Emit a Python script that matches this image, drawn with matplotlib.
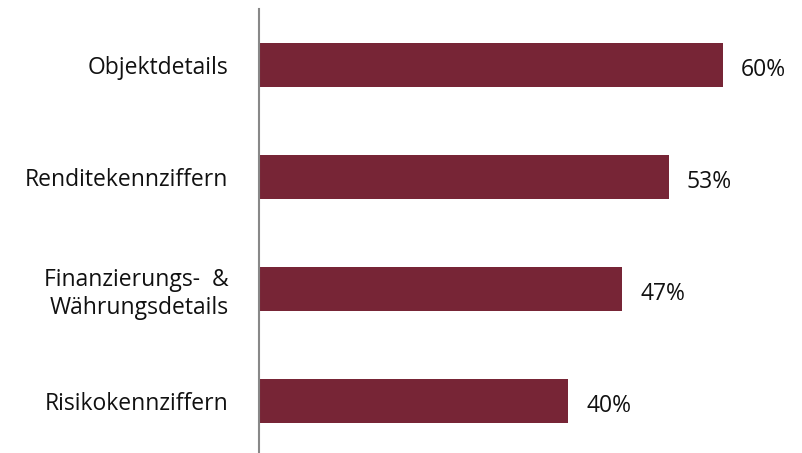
import matplotlib.pyplot as plt

# Kategorien und Anteile (in %)
categories = ["Objektdetails", "Renditekennziffern", "Finanzierungs-  &\nWährungsdetails", "Risikokennziffern"]
values = [60, 53, 47, 40]

bar_color = "#772536"

fig = plt.figure(figsize=(8.03, 4.53), dpi=100)
ax = fig.add_axes([0.3225, -0.009, 0.6725, 0.989])

y = list(range(len(categories)))
ax.barh(y, values, height=0.4, color=bar_color, left=0.1)
ax.set_ylim(3.5, -0.5)
ax.set_xlim(0, 70)

for yi, v in zip(y, values):
    ax.text(v + 2.4, yi + 0.04, f"{v}%", va="center", ha="left",
            fontsize=16.5, family="Open Sans", color="#111111")

ax.set_yticks(y)
ax.set_yticklabels(categories, fontsize=16.5, family="Open Sans", color="#111111",
                   linespacing=1.2)
ax.tick_params(axis="y", length=0, pad=22)
ax.set_xticks([])
for side in ["top", "right", "bottom"]:
    ax.spines[side].set_visible(False)
ax.spines["left"].set_color("#888888")
ax.spines["left"].set_linewidth(1.5)

fig.savefig("out.png", dpi=100)
